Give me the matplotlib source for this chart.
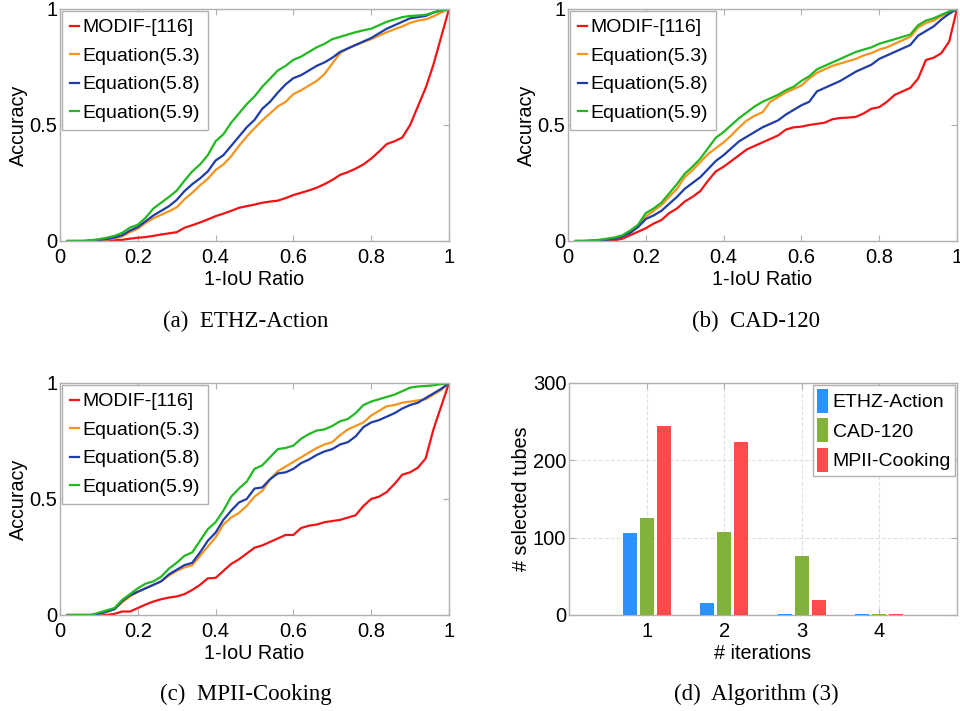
import numpy as np
import matplotlib
matplotlib.use("Agg")
import matplotlib.pyplot as plt

plt.rcParams['font.family'] = ['Liberation Sans', 'DejaVu Sans']

x_ratio = [round(0.02 * k, 2) for k in range(1, 51)]
series_names = ['MODIF-[116]', 'Equation(5.3)', 'Equation(5.8)', 'Equation(5.9)']

ethz_modif = [0, 0, 0, 0, 0, 0.001, 0.003, 0.005, 0.01, 0.014,
              0.017, 0.022, 0.028, 0.033, 0.038, 0.057, 0.068, 0.08, 0.093, 0.107,
              0.118, 0.13, 0.143, 0.15, 0.157, 0.165, 0.17, 0.174, 0.185, 0.198,
              0.208, 0.218, 0.23, 0.245, 0.263, 0.285, 0.297, 0.312, 0.33, 0.355,
              0.385, 0.418, 0.43, 0.446, 0.5, 0.58, 0.66, 0.76, 0.88, 1.0]
ethz_eq53 = [0, 0, 0, 0.001, 0.003, 0.006, 0.012, 0.02, 0.038, 0.053,
             0.078, 0.098, 0.113, 0.128, 0.145, 0.18, 0.208, 0.24, 0.268, 0.306,
             0.33, 0.365, 0.41, 0.45, 0.486, 0.52, 0.55, 0.58, 0.6, 0.633,
             0.65, 0.67, 0.69, 0.72, 0.765, 0.81, 0.83, 0.845, 0.858, 0.87,
             0.885, 0.9, 0.913, 0.925, 0.94, 0.95, 0.955, 0.968, 0.985, 1.0]
ethz_eq58 = [0, 0, 0, 0.002, 0.005, 0.008, 0.015, 0.025, 0.045, 0.06,
             0.085, 0.11, 0.13, 0.15, 0.177, 0.215, 0.245, 0.27, 0.3, 0.347,
             0.37, 0.41, 0.45, 0.49, 0.522, 0.57, 0.6, 0.64, 0.675, 0.702,
             0.715, 0.735, 0.755, 0.77, 0.79, 0.815, 0.83, 0.845, 0.86, 0.875,
             0.895, 0.915, 0.93, 0.945, 0.96, 0.965, 0.97, 0.985, 0.995, 1.0]
ethz_eq59 = [0, 0, 0, 0.003, 0.008, 0.014, 0.022, 0.035, 0.058, 0.07,
             0.1, 0.14, 0.165, 0.19, 0.217, 0.26, 0.3, 0.33, 0.37, 0.43,
             0.46, 0.51, 0.55, 0.59, 0.623, 0.665, 0.7, 0.735, 0.755, 0.781,
             0.795, 0.815, 0.835, 0.85, 0.87, 0.88, 0.89, 0.9, 0.908, 0.915,
             0.93, 0.945, 0.955, 0.965, 0.97, 0.972, 0.975, 0.985, 0.992, 1.0]

cad_modif = [0, 0, 0, 0, 0, 0.003, 0.01, 0.025, 0.04, 0.055,
             0.075, 0.09, 0.12, 0.14, 0.17, 0.19, 0.215, 0.26, 0.3, 0.32,
             0.345, 0.37, 0.395, 0.41, 0.425, 0.44, 0.455, 0.48, 0.49, 0.493,
             0.5, 0.505, 0.51, 0.525, 0.53, 0.532, 0.535, 0.55, 0.57, 0.577,
             0.6, 0.63, 0.645, 0.66, 0.7, 0.78, 0.79, 0.81, 0.86, 1.0]
cad_eq53 = [0, 0, 0.001, 0.003, 0.008, 0.013, 0.02, 0.04, 0.065, 0.105,
            0.13, 0.155, 0.19, 0.225, 0.275, 0.305, 0.34, 0.375, 0.4, 0.425,
            0.455, 0.49, 0.52, 0.54, 0.555, 0.6, 0.62, 0.64, 0.655, 0.67,
            0.7, 0.725, 0.74, 0.755, 0.765, 0.775, 0.785, 0.8, 0.81, 0.825,
            0.835, 0.85, 0.865, 0.88, 0.92, 0.94, 0.95, 0.97, 0.985, 1.0]
cad_eq58 = [0, 0, 0.001, 0.002, 0.005, 0.01, 0.02, 0.035, 0.06, 0.095,
            0.11, 0.13, 0.16, 0.19, 0.225, 0.25, 0.275, 0.31, 0.345, 0.37,
            0.4, 0.43, 0.45, 0.47, 0.49, 0.505, 0.52, 0.545, 0.565, 0.585,
            0.6, 0.645, 0.66, 0.675, 0.69, 0.71, 0.73, 0.745, 0.76, 0.785,
            0.8, 0.815, 0.83, 0.845, 0.885, 0.905, 0.925, 0.955, 0.98, 1.0]
cad_eq59 = [0, 0, 0.002, 0.005, 0.01, 0.015, 0.025, 0.045, 0.07, 0.12,
            0.14, 0.165, 0.205, 0.245, 0.29, 0.32, 0.355, 0.4, 0.445, 0.47,
            0.5, 0.53, 0.555, 0.58, 0.6, 0.615, 0.63, 0.65, 0.665, 0.69,
            0.71, 0.74, 0.755, 0.77, 0.785, 0.8, 0.815, 0.825, 0.835, 0.85,
            0.86, 0.87, 0.88, 0.89, 0.93, 0.95, 0.96, 0.975, 0.99, 1.0]

mpii_modif = [0, 0, 0, 0, 0, 0, 0.005, 0.015, 0.015, 0.03,
              0.045, 0.058, 0.068, 0.075, 0.08, 0.09, 0.108, 0.13, 0.158, 0.16,
              0.19, 0.22, 0.24, 0.265, 0.29, 0.3, 0.315, 0.33, 0.345, 0.345,
              0.375, 0.385, 0.39, 0.4, 0.405, 0.41, 0.42, 0.43, 0.47, 0.5,
              0.51, 0.53, 0.565, 0.605, 0.615, 0.635, 0.675, 0.8, 0.9, 1.0]
mpii_eq53 = [0, 0, 0, 0, 0.003, 0.012, 0.025, 0.055, 0.08, 0.1,
             0.115, 0.13, 0.145, 0.17, 0.19, 0.205, 0.215, 0.255, 0.295, 0.335,
             0.39, 0.42, 0.44, 0.47, 0.51, 0.535, 0.585, 0.62, 0.64, 0.66,
             0.68, 0.7, 0.72, 0.735, 0.745, 0.775, 0.8, 0.815, 0.83, 0.86,
             0.88, 0.9, 0.905, 0.915, 0.92, 0.925, 0.93, 0.95, 0.97, 1.0]
mpii_eq58 = [0, 0, 0, 0, 0.005, 0.015, 0.025, 0.06, 0.085, 0.1,
             0.115, 0.13, 0.145, 0.175, 0.195, 0.215, 0.225, 0.27, 0.32, 0.355,
             0.41, 0.45, 0.485, 0.5, 0.545, 0.55, 0.585, 0.61, 0.615, 0.63,
             0.655, 0.67, 0.69, 0.705, 0.715, 0.735, 0.745, 0.77, 0.81, 0.83,
             0.84, 0.855, 0.87, 0.89, 0.905, 0.915, 0.935, 0.955, 0.975, 1.0]
mpii_eq59 = [0, 0, 0, 0, 0.01, 0.02, 0.03, 0.065, 0.09, 0.115,
             0.135, 0.145, 0.165, 0.2, 0.225, 0.255, 0.27, 0.32, 0.37, 0.4,
             0.45, 0.51, 0.545, 0.575, 0.63, 0.645, 0.68, 0.715, 0.72, 0.73,
             0.76, 0.78, 0.795, 0.8, 0.815, 0.835, 0.845, 0.87, 0.905, 0.92,
             0.93, 0.94, 0.95, 0.965, 0.98, 0.985, 0.987, 0.99, 0.995, 1.0]

iterations = [1, 2, 3, 4]
bar_names = ['ETHZ-Action', 'CAD-120', 'MPII-Cooking']
tubes_ethz = [106, 15, 0.8, 0.8]
tubes_cad = [126, 107, 76, 0.8]
tubes_mpii = [245, 224, 20, 0.8]

captions = ['(a)  ETHZ-Action', '(b)  CAD-120', '(c)  MPII-Cooking', '(d)  Algorithm (3)']

line_colors = ['#f21414', '#f7941d', '#1f3da8', '#21b821']
bar_colors = ['#2b91ff', '#83b23a', '#ff4b4b']
axis_gray = '#b0b0b0'
TICK_FS = 14.5
LABEL_FS = 14.2

W, H = 960, 711
fig = plt.figure(figsize=(W / 100, H / 100), dpi=100)


def rect(l, t, r, b):
    return [l / W, 1 - b / H, (r - l) / W, (b - t) / H]


def style_axes(ax):
    for s in ax.spines.values():
        s.set_color(axis_gray)
        s.set_linewidth(1.0)
    ax.tick_params(direction='in', length=4, color=axis_gray, labelsize=TICK_FS,
                   top=True, right=True, labelcolor='black')
    ax.tick_params(axis='x', pad=5)
    ax.tick_params(axis='y', pad=2)


line_panels = [
    (rect(60, 9, 449, 241), [ethz_modif, ethz_eq53, ethz_eq58, ethz_eq59]),
    (rect(568, 9, 957, 241), [cad_modif, cad_eq53, cad_eq58, cad_eq59]),
    (rect(60, 383, 449, 615), [mpii_modif, mpii_eq53, mpii_eq58, mpii_eq59]),
]

for pos, data in line_panels:
    ax = fig.add_axes(pos)
    for vals, name, c in zip(data, series_names, line_colors):
        ax.plot(x_ratio, vals, color=c, lw=1.6, label=name)
    ax.set_xlim(0, 1)
    ax.set_ylim(0, 1)
    ax.set_xticks([0, 0.2, 0.4, 0.6, 0.8, 1])
    ax.set_xticklabels(['0', '0.2', '0.4', '0.6', '0.8', '1'])
    ax.set_yticks([0, 0.5, 1])
    ax.set_yticklabels(['0', '0.5', '1'])
    style_axes(ax)
    ax.set_xlabel('1-IoU Ratio', fontsize=LABEL_FS, labelpad=2)
    ax.set_ylabel('Accuracy', fontsize=LABEL_FS, labelpad=1)
    leg = ax.legend(loc='upper left', fontsize=14, borderaxespad=0.1,
                    handlelength=0.5, handletextpad=0.15, borderpad=0.4,
                    labelspacing=0.56, fancybox=False, framealpha=1)
    leg.get_frame().set_edgecolor(axis_gray)
    leg.get_frame().set_linewidth(1.0)

# bar panel
ax = fig.add_axes(rect(569, 383, 957, 615))
xi = np.array(iterations, dtype=float)
offs = [-0.22, 0.0, 0.22]
for vals, name, c, o in zip([tubes_ethz, tubes_cad, tubes_mpii], bar_names, bar_colors, offs):
    ax.bar(xi + o, vals, width=0.18, color=c, label=name, linewidth=0, zorder=3)
ax.set_xlim(0, 5)
ax.set_ylim(0, 300)
ax.set_xticks(iterations)
ax.set_yticks([0, 100, 200, 300])
ax.grid(True, linestyle='--', color='#e0e0e0', linewidth=0.8, zorder=0)
ax.set_axisbelow(True)
style_axes(ax)
ax.set_xlabel('# iterations', fontsize=LABEL_FS, labelpad=2)
ax.set_ylabel('# selected tubes', fontsize=LABEL_FS, labelpad=1)
leg = ax.legend(loc='upper right', fontsize=14, borderaxespad=0.1,
                handlelength=0.55, handleheight=1.5, handletextpad=0.25,
                borderpad=0.2, labelspacing=0.3, fancybox=False, framealpha=1)
leg.get_frame().set_edgecolor(axis_gray)
leg.get_frame().set_linewidth(1.0)

# captions
cap_pos = [(246, 321), (756, 321), (246, 694), (756, 694)]
for (cx, cy), txt in zip(cap_pos, captions):
    fig.text(cx / W, 1 - cy / H, txt, ha='center', va='center',
             fontsize=16.5, family=['Liberation Serif', 'DejaVu Serif'])

fig.savefig('out.png', dpi=100)
